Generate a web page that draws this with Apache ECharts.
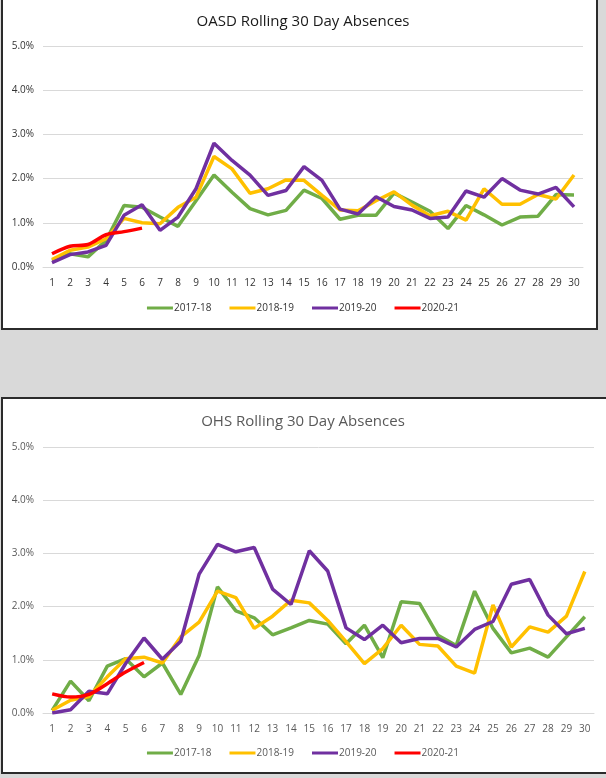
<!DOCTYPE html>
<html>
<head>
<meta charset="utf-8">
<script src="https://cdn.jsdelivr.net/npm/echarts@6/dist/echarts.min.js"></script>
<style>
  html, body { margin:0; padding:0; background:#d9d9d9; width:606px; height:778px; overflow:hidden; position:relative; }
  .panel { position:absolute; background:#fff; border:2px solid #2b2b2b; box-sizing:border-box; }
  .chart { position:absolute; }
</style>
</head>
<body>
<div class="panel" style="left:1px; top:-4px; width:597px; height:334px;"></div>
<div class="panel" style="left:1px; top:397px; width:610px; height:377px; border-right:none;"></div>
<div id="c1" class="chart" style="left:0; top:0; width:606px; height:330px;"></div>
<div id="c2" class="chart" style="left:0; top:398px; width:606px; height:380px;"></div>
<script>
// ---- data (values in percent) ----
const days = ['1','2','3','4','5','6','7','8','9','10','11','12','13','14','15','16','17','18','19','20','21','22','23','24','25','26','27','28','29','30'];
const seasons = ['2017-18','2018-19','2019-20','2020-21'];
const yTicks = [0, 1, 2, 3, 4, 5];

const oasd1718 = [0.15,0.30,0.23,0.60,1.39,1.35,1.13,0.92,1.50,2.08,1.69,1.32,1.18,1.28,1.74,1.55,1.08,1.17,1.17,1.67,1.47,1.26,0.87,1.39,1.18,0.95,1.13,1.15,1.64,1.63];
const oasd1819 = [0.17,0.38,0.45,0.64,1.10,1.00,0.98,1.35,1.58,2.50,2.22,1.67,1.77,1.97,1.96,1.62,1.29,1.27,1.50,1.70,1.40,1.16,1.26,1.06,1.77,1.42,1.42,1.64,1.54,2.08];
const oasd1920 = [0.10,0.28,0.34,0.49,1.17,1.41,0.83,1.13,1.77,2.80,2.41,2.08,1.62,1.73,2.27,1.96,1.31,1.20,1.59,1.37,1.29,1.10,1.13,1.72,1.58,2.00,1.74,1.65,1.80,1.36];
const oasd2021 = [0.30,0.47,0.51,0.73,0.80,0.88];

const ohs1718 = [0.05,0.60,0.23,0.88,1.02,0.68,0.94,0.35,1.08,2.37,1.92,1.79,1.47,1.60,1.74,1.67,1.30,1.65,1.04,2.09,2.06,1.46,1.27,2.29,1.59,1.13,1.22,1.05,1.43,1.81];
const ohs1819 = [0.05,0.24,0.31,0.68,1.02,1.05,0.94,1.43,1.71,2.29,2.17,1.59,1.82,2.12,2.07,1.74,1.34,0.93,1.21,1.65,1.29,1.26,0.88,0.75,2.03,1.24,1.62,1.52,1.82,2.66];
const ohs1920 = [0.00,0.06,0.41,0.36,0.93,1.41,1.01,1.35,2.61,3.17,3.03,3.11,2.33,2.04,3.05,2.67,1.60,1.38,1.65,1.32,1.40,1.40,1.24,1.57,1.72,2.42,2.51,1.84,1.49,1.59];
const ohs2021 = [0.36,0.30,0.35,0.55,0.77,0.95];

const colors = ['#70AD47', '#FFC000', '#7030A0', '#FF0000'];
const FONT = '"Open Sans", "Liberation Sans", sans-serif';

function makeOption(title, seriesData, cfg) {
  return {
    animation: false,
    color: colors,
    title: {
      text: title, left: 'center', top: cfg.titleTop,
      textStyle: { fontFamily: FONT, fontSize: 15, fontWeight: 'normal', color: cfg.titleColor }
    },
    legend: {
      data: seasons, bottom: cfg.legendBottom, left: 'center',
      icon: 'rect', itemWidth: 26, itemHeight: 3, itemGap: 18,
      textStyle: { fontFamily: FONT, fontSize: 10, color: cfg.textColor, padding: [0,0,0,-4] }
    },
    grid: cfg.grid,
    xAxis: {
      type: 'category', data: days, boundaryGap: true,
      axisLine: { show: true, lineStyle: { color: '#d9d9d9', width: 1 } },
      axisTick: { show: false },
      axisLabel: { fontFamily: FONT, fontSize: 10, color: cfg.textColor, margin: 11, interval: 0 }
    },
    yAxis: {
      type: 'value', min: yTicks[0], max: yTicks[yTicks.length-1], interval: 1,
      axisLine: { show: false }, axisTick: { show: false },
      splitLine: { lineStyle: { color: '#d9d9d9', width: 1 } },
      axisLabel: { fontFamily: FONT, fontSize: 10, color: cfg.textColor, margin: 9,
        formatter: v => v.toFixed(1) + '%' }
    },
    series: seriesData.map((d, i) => ({
      name: seasons[i], type: 'line', data: d, symbol: 'none',
      smooth: i === 3 ? 0.3 : false,
      lineStyle: { width: 3.5, color: colors[i] }
    }))
  };
}

const c1 = echarts.init(document.getElementById('c1'), null, { renderer: 'canvas' });
c1.setOption(makeOption('OASD Rolling 30 Day Absences', [oasd1718, oasd1819, oasd1920, oasd2021], {
  titleTop: 9, titleColor: '#1a1a1a', textColor: '#333333', legendBottom: 12,
  grid: { left: 43, right: 23, top: 46, bottom: 63 }
}));

const c2 = echarts.init(document.getElementById('c2'), null, { renderer: 'canvas' });
c2.setOption(makeOption('OHS Rolling 30 Day Absences', [ohs1718, ohs1819, ohs1920, ohs2021], {
  titleTop: 11, titleColor: '#595959', textColor: '#595959', legendBottom: 15,
  grid: { left: 43, right: 12, top: 49, bottom: 65 }
}));
</script>
</body>
</html>
